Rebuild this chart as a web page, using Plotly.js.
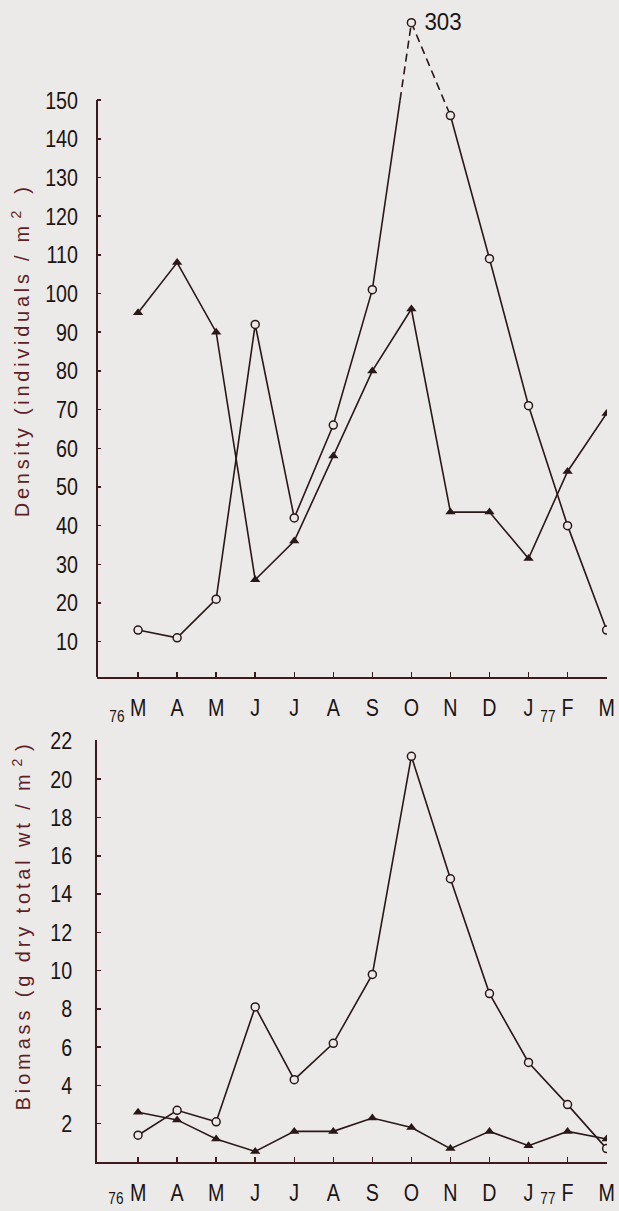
<!DOCTYPE html>
<html><head><meta charset="utf-8">
<script src="https://cdn.plot.ly/plotly-3.0.1.min.js"></script>
<style>
html,body{margin:0;padding:0;background:#ebeae8;}
</style>
</head><body>
<div id="chart" style="width:619px;height:1211px;"></div>
<script>
const months = ['M','A','M','J','J','A','S','O','N','D','J','F','M'];
const densityCircle = [13, 11, 21, 92, 42, 66, 101, 303, 146, 109, 71, 40, 13];
const densityTriangle = [95, 108, 90, 26, 36, 58, 80, 96, 43.5, 43.5, 31.5, 54, 69];
const biomassCircle = [1.4, 2.7, 2.1, 8.1, 4.3, 6.2, 9.8, 21.2, 14.8, 8.8, 5.2, 3.0, 0.7];
const biomassTriangle = [2.6, 2.2, 1.2, 0.55, 1.6, 1.6, 2.3, 1.8, 0.7, 1.6, 0.85, 1.6, 1.2];
const densityTicks = [10,20,30,40,50,60,70,80,90,100,110,120,130,140,150];
const biomassTicks = [2,4,6,8,10,12,14,16,18,20,22];
const yearLabels = ['76', '77'];

const AXIS_MAX = 150;   // top of the broken density axis
const BREAK_Y = 170;    // display height of the off-scale point
const idx = months.map((m,i)=>i);
const dispC = densityCircle.map(v => v > AXIS_MAX ? BREAK_Y : v);

const BG = '#ebeae8';
const INK = '#2a1818';
const AX = '#3e1a1c';
const FONT = '"Liberation Sans", Arial, sans-serif';
const TXT = '#1c1414';

const peak = densityCircle.findIndex(v => v > AXIS_MAX);
const prev = peak - 1, next = peak + 1;
const t = (AXIS_MAX - dispC[prev]) / (dispC[peak] - dispC[prev]);
const crossX = prev + t;

const lineStyle = {color: INK, width: 1.6};
const markerC = {symbol:'circle', size:8, color:BG, line:{color:INK, width:1.5}};
const markerT = {symbol:'triangle-up', size:9, color:INK, line:{color:INK, width:0}};

const traces = [
  {x: idx, y: densityTriangle, xaxis:'x', yaxis:'y', mode:'lines+markers', line:lineStyle, marker:markerT},
  {x: idx.slice(0, peak).concat([crossX]), y: dispC.slice(0, peak).concat([AXIS_MAX]), xaxis:'x', yaxis:'y', mode:'lines', line:lineStyle},
  {x: [crossX, peak, next], y: [AXIS_MAX, dispC[peak], dispC[next]], xaxis:'x', yaxis:'y', mode:'lines', line:{color:INK, width:1.6, dash:'8px,5px'}},
  {x: idx.slice(next), y: dispC.slice(next), xaxis:'x', yaxis:'y', mode:'lines', line:lineStyle},
  {x: idx, y: dispC, xaxis:'x', yaxis:'y', mode:'markers', marker:markerC},
  {x: idx, y: biomassTriangle, xaxis:'x2', yaxis:'y2', mode:'lines+markers', line:lineStyle, marker:markerT},
  {x: idx, y: biomassCircle, xaxis:'x2', yaxis:'y2', mode:'lines+markers', line:lineStyle, marker:markerC}
];

const tickFont = {family: FONT, size: 24, color: TXT};
const xCommon = {
  range: [-1.052, 12.01], tickvals: idx, ticktext: months, ticks: 'inside', ticklen: 5, tickwidth: 1.5,
  tickcolor: AX, showline: true, linecolor: AX, linewidth: 2, showgrid: false, zeroline: false,
  tickfont: tickFont, ticklabelstandoff: 8, fixedrange: true
};
const yCommon = {
  ticks: 'inside', ticklen: 4, tickwidth: 1.5, tickcolor: AX, showgrid: false, zeroline: false,
  tickfont: tickFont, ticklabelstandoff: 18, fixedrange: true
};

const titleFont = {family: FONT, size: 20, color: '#5e1f26'};
const subFont = {family: FONT, size: 16, color: TXT};

const layout = {
  width: 619, height: 1211,
  margin: {l: 97, r: 12, t: 3, b: 49},
  paper_bgcolor: BG, plot_bgcolor: BG,
  showlegend: false,
  xaxis: Object.assign({}, xCommon, {anchor: 'y', domain: [0, 1]}),
  yaxis: Object.assign({}, yCommon, {anchor: 'x', domain: [0.4185, 1], range: [0.88, 175.1], tickvals: densityTicks, showline: false}),
  xaxis2: Object.assign({}, xCommon, {anchor: 'y2', domain: [0, 1]}),
  yaxis2: Object.assign({}, yCommon, {anchor: 'x2', domain: [0, 0.3641], range: [0, 22.05], tickvals: biomassTicks, showline: true, linecolor: AX, linewidth: 2}),
  shapes: [
    {type: 'line', xref: 'x domain', yref: 'y', x0: 0, x1: 0, y0: 0.88, y1: AXIS_MAX, line: {color: AX, width: 2}}
  ],
  annotations: [
    {xref: 'x', yref: 'y', x: peak, y: dispC[peak], text: String(densityCircle[peak]), showarrow: false,
     xanchor: 'left', yanchor: 'middle', xshift: 10, yshift: 1, font: {family: FONT, size: 24, color: TXT}},
    {xref: 'paper', yref: 'paper', x: -0.149, y: 0.6989, xanchor: 'center', yanchor: 'middle',
     text: 'Density (individuals / m<sup>2</sup> )', textangle: -90, showarrow: false, font: titleFont},
    {xref: 'paper', yref: 'paper', x: -0.149, y: 0.2024, xanchor: 'center', yanchor: 'middle',
     text: 'Biomass (g dry total wt / m<sup>2</sup>)', textangle: -90, showarrow: false, font: titleFont},
    {xref: 'x', yref: 'paper', x: 0, y: 0.3848, xshift: -21, xanchor: 'center', yanchor: 'middle', text: yearLabels[0], showarrow: false, font: subFont},
    {xref: 'x', yref: 'paper', x: 10, y: 0.3848, xshift: 19, xanchor: 'center', yanchor: 'middle', text: yearLabels[1], showarrow: false, font: subFont},
    {xref: 'x2', yref: 'paper', x: 0, y: -0.0319, xshift: -22, xanchor: 'center', yanchor: 'middle', text: yearLabels[0], showarrow: false, font: subFont},
    {xref: 'x2', yref: 'paper', x: 10, y: -0.0319, xshift: 19, xanchor: 'center', yanchor: 'middle', text: yearLabels[1], showarrow: false, font: subFont}
  ]
};

function squeeze(el, factor) {
  const L = el.getComputedTextLength();
  if (L > 0) {
    el.setAttribute('textLength', (L * factor).toFixed(2));
    el.setAttribute('lengthAdjust', 'spacingAndGlyphs');
  }
}

Plotly.newPlot('chart', traces, layout, {staticPlot: true, displayModeBar: false}).then(() => {
  document.querySelectorAll('.xtick text, .ytick text, .x2tick text, .y2tick text').forEach(el => squeeze(el, 0.82));
  const ann = document.querySelectorAll('.annotation-text');
  ann.forEach((el, i) => {
    if (i === 1) { el.setAttribute('textLength', '330'); el.setAttribute('lengthAdjust', 'spacing'); }
    else if (i === 2) { el.setAttribute('textLength', '366'); el.setAttribute('lengthAdjust', 'spacing'); }
    else if (i === 0) squeeze(el, 0.93);
    else squeeze(el, 0.85);
  });
});
</script>
</body></html>
